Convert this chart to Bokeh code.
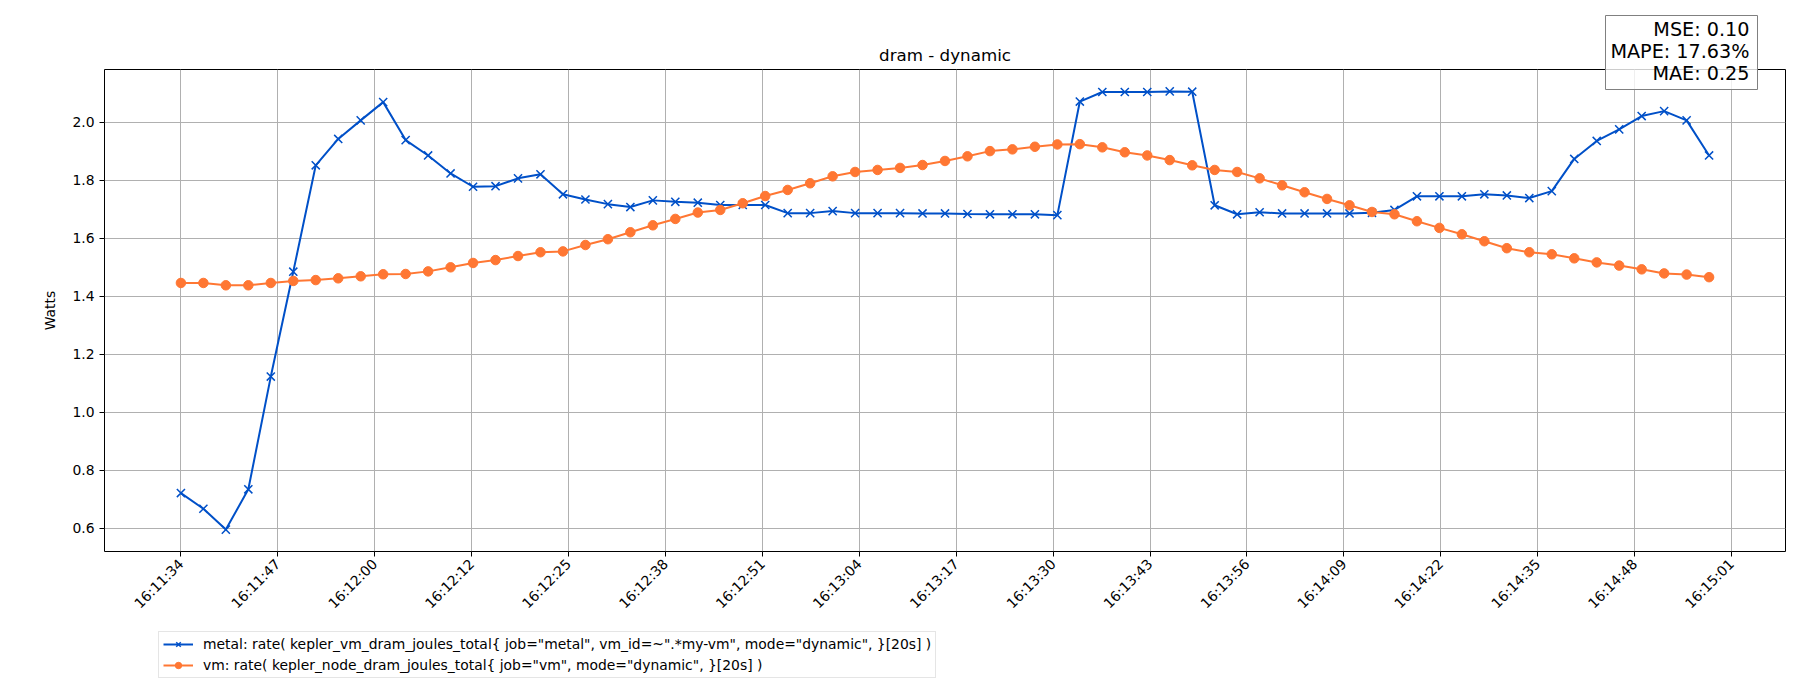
import math
from bokeh.plotting import figure
from bokeh.layouts import column
from bokeh.core.properties import value
from bokeh.models import (FixedTicker, Range1d, Legend, LegendItem,
                          NumeralTickFormatter)
from bokeh.embed import file_html
from bokeh.resources import INLINE

# ---------------- data ----------------
times = ["16:11:34", "16:11:37", "16:11:40", "16:11:43", "16:11:46", "16:11:49",
         "16:11:52", "16:11:55", "16:11:58", "16:12:01", "16:12:04", "16:12:07",
         "16:12:10", "16:12:13", "16:12:16", "16:12:19", "16:12:22", "16:12:25",
         "16:12:28", "16:12:31", "16:12:34", "16:12:37", "16:12:40", "16:12:43",
         "16:12:46", "16:12:49", "16:12:52", "16:12:55", "16:12:58", "16:13:01",
         "16:13:04", "16:13:07", "16:13:10", "16:13:13", "16:13:16", "16:13:19",
         "16:13:22", "16:13:25", "16:13:28", "16:13:31", "16:13:34", "16:13:37",
         "16:13:40", "16:13:43", "16:13:46", "16:13:49", "16:13:52", "16:13:55",
         "16:13:58", "16:14:01", "16:14:04", "16:14:07", "16:14:10", "16:14:13",
         "16:14:16", "16:14:19", "16:14:22", "16:14:25", "16:14:28", "16:14:31",
         "16:14:34", "16:14:37", "16:14:40", "16:14:43", "16:14:46", "16:14:49",
         "16:14:52", "16:14:55", "16:14:58"]

metal = [0.721, 0.667, 0.595, 0.734, 1.123, 1.485, 1.852, 1.943, 2.007, 2.070,
         1.939, 1.886, 1.824, 1.778, 1.780, 1.807, 1.821, 1.752, 1.734, 1.718,
         1.708, 1.731, 1.726, 1.723, 1.715, 1.715, 1.715, 1.687, 1.687, 1.694,
         1.687, 1.687, 1.687, 1.686, 1.686, 1.684, 1.683, 1.683, 1.683, 1.680,
         2.072, 2.105, 2.105, 2.105, 2.107, 2.106, 1.714, 1.683, 1.690, 1.686,
         1.686, 1.686, 1.686, 1.688, 1.698, 1.745, 1.745, 1.745, 1.752, 1.748,
         1.739, 1.763, 1.874, 1.936, 1.976, 2.022, 2.039, 2.007, 1.886]

vm = [1.446, 1.446, 1.438, 1.438, 1.446, 1.453, 1.456, 1.462, 1.469, 1.476,
      1.477, 1.486, 1.500, 1.515, 1.525, 1.539, 1.552, 1.555, 1.577, 1.597,
      1.621, 1.645, 1.667, 1.689, 1.698, 1.721, 1.746, 1.767, 1.790, 1.814,
      1.829, 1.836, 1.843, 1.853, 1.867, 1.883, 1.901, 1.907, 1.916, 1.924,
      1.925, 1.914, 1.897, 1.886, 1.870, 1.852, 1.836, 1.829, 1.807, 1.783,
      1.759, 1.736, 1.714, 1.691, 1.683, 1.659, 1.636, 1.614, 1.590, 1.566,
      1.552, 1.545, 1.531, 1.517, 1.506, 1.493, 1.479, 1.475, 1.466]

tick_labels = ["16:11:34", "16:11:47", "16:12:00", "16:12:12", "16:12:25",
               "16:12:38", "16:12:51", "16:13:04", "16:13:17", "16:13:30",
               "16:13:43", "16:13:56", "16:14:09", "16:14:22", "16:14:35",
               "16:14:48", "16:15:01"]

y_ticks = [0.6, 0.8, 1.0, 1.2, 1.4, 1.6, 1.8, 2.0]

title_text = "dram - dynamic"
y_label = "Watts"
metal_label = 'metal: rate( kepler_vm_dram_joules_total{ job="metal", vm_id=~".*my-vm", mode="dynamic", }[20s] )'
vm_label = 'vm: rate( kepler_node_dram_joules_total{ job="vm", mode="dynamic", }[20s] )'
metrics_lines = ["MSE: 0.10", "MAPE: 17.63%", "MAE: 0.25"]

BLUE = "#0050c8"
ORANGE = "#ff7733"
FONT = "DejaVu Sans"
X_SIZE = 11.5
O_SIZE = 9.5

# ---------------- layout (pixels) ----------------
W = 1792
FL, FR, FT, FB = 104, 1785, 69, 551          # frame edges on the page
P_H = 626                                      # height of chart figure
Q_H = 692 - P_H                                # height of legend strip
BOX_L, BOX_R, BOX_T, BOX_B = 1605, 1757, 15, 89  # metrics box
TXT_R = 1749
TXT_Y = [29, 51, 73]
LEG_DX, LEG_DY = 54, 14                        # legend offset in strip


def to_sec(t):
    h, m, s = map(int, t.split(":"))
    return h * 3600 + m * 60 + s


t0 = to_sec(times[0])
x = [to_sec(t) - t0 for t in times]
span = to_sec(tick_labels[-1]) - to_sec(tick_labels[0])
n_t = len(tick_labels)
tick_pos = [i * span / (n_t - 1) for i in range(n_t)]

xmin, xmax = min(x), max(x)
xpad = 0.05 * (xmax - xmin)
allv = metal + vm
ymin, ymax = min(allv), max(allv)
ypad = 0.05 * (ymax - ymin)
x0, x1 = xmin - xpad, xmax + xpad
y0, y1 = ymin - ypad, ymax + ypad


def px2x(px):
    return x0 + (px - FL) * (x1 - x0) / (FR - FL)


def px2y(py):
    return y0 + (FB - py) * (y1 - y0) / (FB - FT)


p = figure(width=W, height=P_H, output_backend="svg", toolbar_location=None,
           x_range=Range1d(x0, x1), y_range=Range1d(y0, y1),
           min_border_left=FL, min_border_right=W - FR,
           min_border_top=FT, min_border_bottom=P_H - FB)

p.title.text = title_text
p.title.text_font = FONT
p.title.text_font_size = "16.7px"
p.title.text_font_style = "normal"
p.title.text_color = "black"
p.title.align = "center"
p.title.standoff = 9

p.outline_line_color = "black"
p.outline_line_width = 1
p.outline_line_alpha = 1

# axes
p.xaxis.ticker = FixedTicker(ticks=tick_pos)
p.xaxis.major_label_overrides = {tp: lab for tp, lab in zip(tick_pos, tick_labels)}
p.xaxis.major_label_orientation = math.pi / 4
p.yaxis.ticker = FixedTicker(ticks=y_ticks)
p.yaxis.formatter = NumeralTickFormatter(format="0.0")
p.yaxis.axis_label = y_label
p.yaxis.axis_label_standoff = 11
for ax in (p.xaxis[0], p.yaxis[0]):
    ax.axis_line_color = None
    ax.major_tick_in = 0
    ax.major_tick_out = 5
    ax.major_tick_line_color = "black"
    ax.minor_tick_line_color = None
    ax.major_label_text_font = FONT
    ax.major_label_text_font_size = "13.9px"
    ax.major_label_text_color = "black"
    ax.major_label_standoff = 5
    ax.axis_label_text_font = FONT
    ax.axis_label_text_font_size = "13.9px"
    ax.axis_label_text_font_style = "normal"
    ax.axis_label_text_color = "black"

for g in (p.xgrid[0], p.ygrid[0]):
    g.grid_line_color = "#b0b0b0"
    g.grid_line_width = 1

# series
p.line(x, metal, line_color=BLUE, line_width=2)
p.scatter(x, metal, marker="x", size=X_SIZE, line_color=BLUE, line_width=1.5)
p.line(x, vm, line_color=ORANGE, line_width=2)
p.scatter(x, vm, marker="circle", size=O_SIZE, fill_color=ORANGE,
          line_color=ORANGE)

# metrics box (overlay level so it may extend over the frame edge)
p.quad(left=[px2x(BOX_L)], right=[px2x(BOX_R)], top=[px2y(BOX_T)],
       bottom=[px2y(BOX_B)], fill_color="white", fill_alpha=0.8,
       line_color="#808080", line_width=1, level="overlay")
p.text(x=[px2x(TXT_R)] * len(metrics_lines), y=[px2y(v) for v in TXT_Y],
       text=metrics_lines, text_align="right", text_baseline="middle",
       text_font=value(FONT), text_font_size="19.2px",
       text_color="black", level="overlay")

# ---------------- legend strip below ----------------
q = figure(width=W, height=Q_H, output_backend="svg", toolbar_location=None,
           x_axis_location=None, y_axis_location=None,
           x_range=Range1d(0, 1), y_range=Range1d(0, 1),
           min_border_left=FL, min_border_right=W - FR,
           min_border_top=0, min_border_bottom=0)
q.grid.visible = False
q.outline_line_color = None
# legend proxies (kept outside the visible range of the strip)
l1 = q.line([-5, -4], [-5, -4], line_color=BLUE, line_width=2)
m1 = q.scatter([-5], [-5], marker="x", size=X_SIZE, line_color=BLUE,
               line_width=1.5)
l2 = q.line([-5, -4], [-5, -4], line_color=ORANGE, line_width=2)
m2 = q.scatter([-5], [-5], marker="circle", size=O_SIZE, fill_color=ORANGE,
               line_color=ORANGE)

legend = Legend(items=[LegendItem(label=metal_label, renderers=[l1, m1]),
                       LegendItem(label=vm_label, renderers=[l2, m2])],
                location=(LEG_DX, LEG_DY))
legend.label_text_font = FONT
legend.label_text_font_size = "13.9px"
legend.label_text_color = "black"
legend.border_line_color = "#cccccc"
legend.border_line_width = 1
legend.background_fill_color = "white"
legend.background_fill_alpha = 0.8
legend.glyph_width = 30
legend.glyph_height = 16
legend.label_standoff = 10
legend.spacing = 5
legend.padding = 4
legend.margin = 0
q.add_layout(legend)

layout = column(p, q, spacing=0)
open("out.html", "w").write(file_html(layout, INLINE))
